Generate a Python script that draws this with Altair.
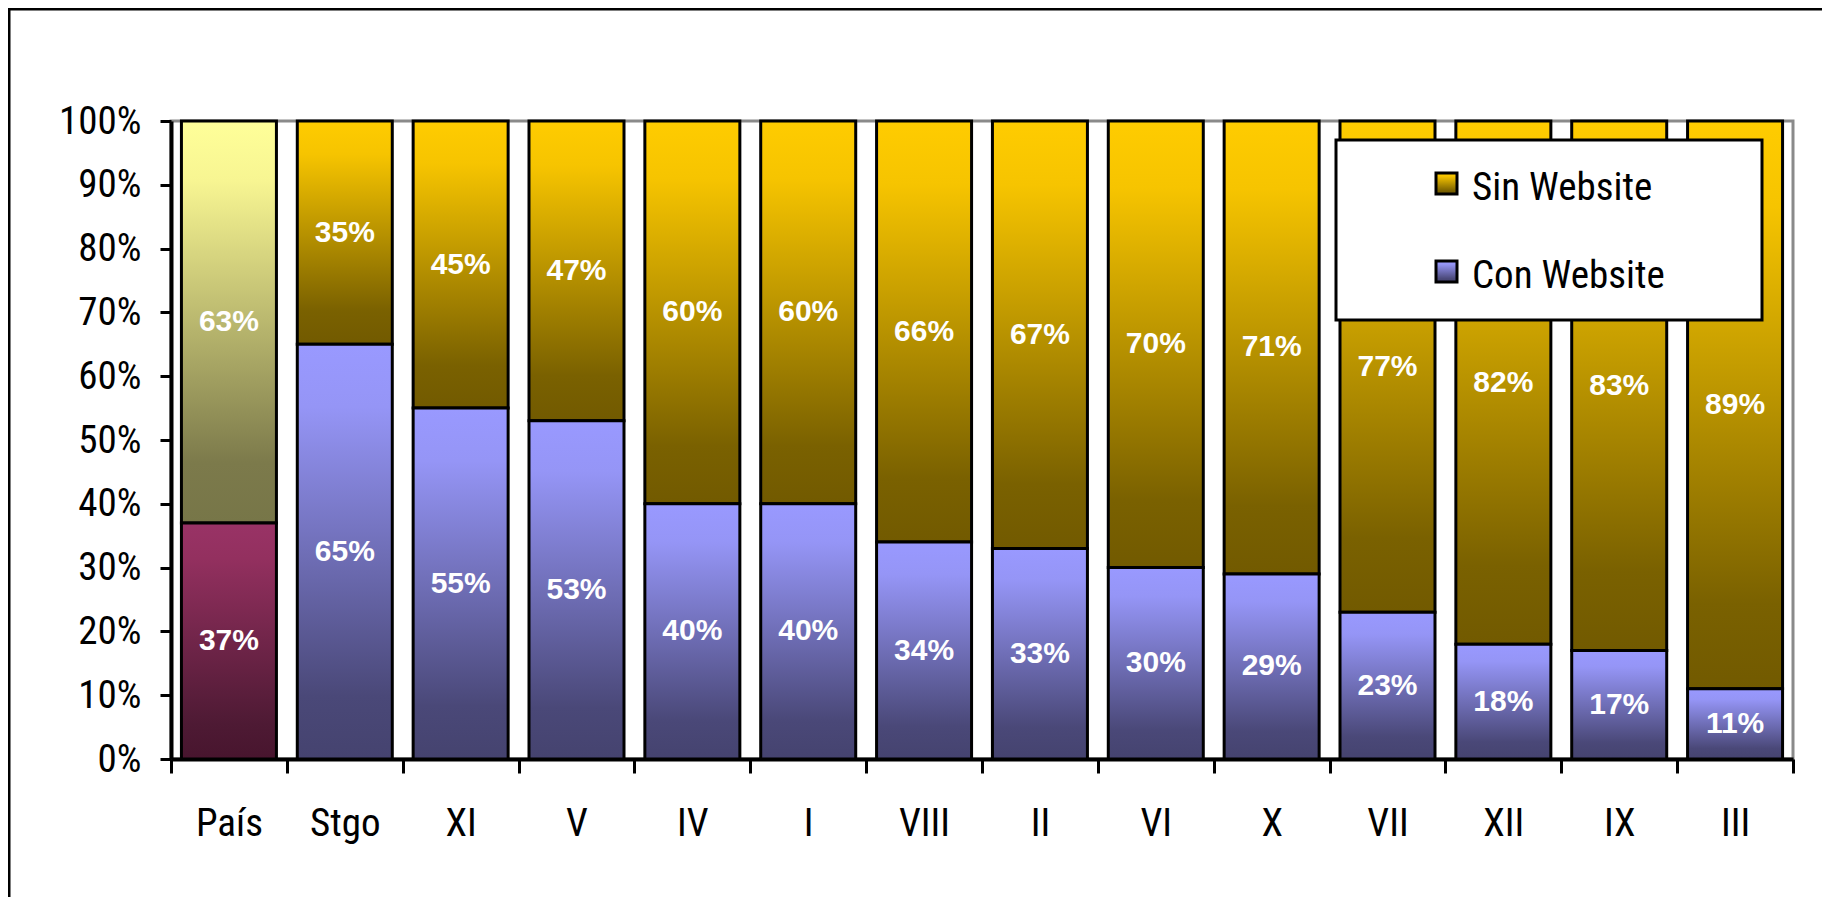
import altair as alt
import pandas as pd

# ---- data ----
regions = ["País", "Stgo", "XI", "V", "IV", "I", "VIII", "II", "VI", "X", "VII", "XII", "IX", "III"]
con_website = [37, 65, 55, 53, 40, 40, 34, 33, 30, 29, 23, 18, 17, 11]
sin_website = [63, 35, 45, 47, 60, 60, 66, 67, 70, 71, 77, 82, 83, 89]
y_ticks = [0, 10, 20, 30, 40, 50, 60, 70, 80, 90, 100]
legend_labels = ["Sin Website", "Con Website"]

df = pd.DataFrame({"region": regions, "con": con_website, "sin": sin_website})
df["top"] = df["con"] + df["sin"]
df["con_mid"] = df["con"] / 2
df["sin_mid"] = df["con"] + df["sin"] / 2
df["con_label"] = df["con"].astype(str) + "%"
df["sin_label"] = df["sin"].astype(str) + "%"

NARROW = "Liberation Sans Narrow, Arial Narrow, Roboto Condensed, Liberation Sans, Arial, sans-serif"
BOLD = "Liberation Sans, Arial, sans-serif"


def grad(stops):
    return alt.LinearGradient(
        gradient="linear", x1=0, y1=0, x2=0, y2=1,
        stops=[alt.GradientStop(offset=o, color=c) for o, c in stops],
    )


g_sin = grad([(0, "#FFCC00"), (0.15, "#F6C400"), (0.85, "#7A6100"), (1, "#725A00")])
g_con = grad([(0, "#9999FF"), (0.15, "#9595F6"), (0.85, "#4A4878"), (1, "#45436F")])
g_pais_sin = grad([(0, "#FFFF99"), (0.15, "#F7F592"), (0.85, "#7C7A4B"), (1, "#777648")])
g_pais_con = grad([(0, "#993366"), (0.15, "#93305F"), (0.85, "#4E1A34"), (1, "#48152E")])

x_enc = alt.X(
    "region:N", sort=regions,
    scale=alt.Scale(domain=regions, paddingInner=0, paddingOuter=0),
    axis=alt.Axis(
        title=None, labelAngle=0, tickBand="extent", tickSize=14, tickWidth=3,
        tickColor="black", domainColor="black", domainWidth=4, grid=False,
        labelFont=NARROW, labelFontSize=39, labelColor="black", labelPadding=31,
    ),
)
y_scale = alt.Scale(domain=[0, 100], nice=False, zero=True)
y_axis = alt.Axis(
    title=None, values=y_ticks, labelExpr="datum.value + '%'", tickSize=11, tickWidth=3,
    tickColor="black", domainColor="black", domainWidth=4, grid=False,
    labelFont=NARROW, labelFontSize=39, labelColor="black", labelPadding=19,
)

base = alt.Chart(df).encode(x=x_enc)
not_pais = "datum.region != 'País'"
is_pais = "datum.region == 'País'"
bar_w = alt.RelativeBandSize(0.82)

sin_bars = base.transform_filter(not_pais).mark_bar(
    fill=g_sin, stroke="black", strokeWidth=3, width=bar_w
).encode(y=alt.Y("top:Q", scale=y_scale, axis=y_axis), y2="con:Q")

con_bars = base.transform_filter(not_pais).mark_bar(
    fill=g_con, stroke="black", strokeWidth=3, width=bar_w
).encode(y=alt.Y("con:Q", scale=y_scale, axis=y_axis))

pais_sin = base.transform_filter(is_pais).mark_bar(
    fill=g_pais_sin, stroke="black", strokeWidth=3, width=bar_w
).encode(y=alt.Y("top:Q", scale=y_scale, axis=y_axis), y2="con:Q")

pais_con = base.transform_filter(is_pais).mark_bar(
    fill=g_pais_con, stroke="black", strokeWidth=3, width=bar_w
).encode(y=alt.Y("con:Q", scale=y_scale, axis=y_axis))

txt_kw = dict(font=BOLD, fontWeight="bold", fontSize=30, color="white", baseline="middle")
con_text = base.mark_text(**txt_kw).encode(
    y=alt.Y("con_mid:Q", scale=y_scale, axis=y_axis), text="con_label:N")
sin_text = base.mark_text(**txt_kw).encode(
    y=alt.Y("sin_mid:Q", scale=y_scale, axis=y_axis), text="sin_label:N")

one = pd.DataFrame({"k": [0]})

# outer chart frame (decoration)
frame = alt.Chart(one).mark_rect(filled=False, stroke="black", strokeWidth=3).encode(
    x=alt.value(-162), x2=alt.value(2000), y=alt.value(-112), y2=alt.value(1000))

# manual legend box (decoration)
leg_box = alt.Chart(one).mark_rect(fill="white", stroke="black", strokeWidth=3).encode(
    x=alt.value(1165), x2=alt.value(1591), y=alt.value(19), y2=alt.value(199))
leg_sym_sin = alt.Chart(one).mark_rect(fill=g_sin, stroke="black", strokeWidth=3).encode(
    x=alt.value(1265), x2=alt.value(1286), y=alt.value(52), y2=alt.value(73))
leg_sym_con = alt.Chart(one).mark_rect(fill=g_con, stroke="black", strokeWidth=3).encode(
    x=alt.value(1265), x2=alt.value(1286), y=alt.value(140), y2=alt.value(161))
leg_kw = dict(font=NARROW, fontSize=39, color="black", align="left", baseline="alphabetic")
leg_txt_sin = alt.Chart(one).mark_text(**leg_kw).encode(
    x=alt.value(1301), y=alt.value(79), text=alt.value(legend_labels[0]))
leg_txt_con = alt.Chart(one).mark_text(**leg_kw).encode(
    x=alt.value(1301), y=alt.value(167), text=alt.value(legend_labels[1]))

chart = alt.layer(
    sin_bars, con_bars, pais_sin, pais_con, sin_text, con_text,
    leg_box, leg_sym_sin, leg_sym_con, leg_txt_sin, leg_txt_con, frame,
).properties(
    width=1622, height=638,
    autosize=alt.AutoSizeParams(type="none"),
    padding={"left": 163, "top": 113, "right": 29, "bottom": 138},
    background="white",
).configure_view(stroke="#8a8a8a", strokeWidth=3)

chart.save("out.html", embed_options={"renderer": "svg", "actions": False})
